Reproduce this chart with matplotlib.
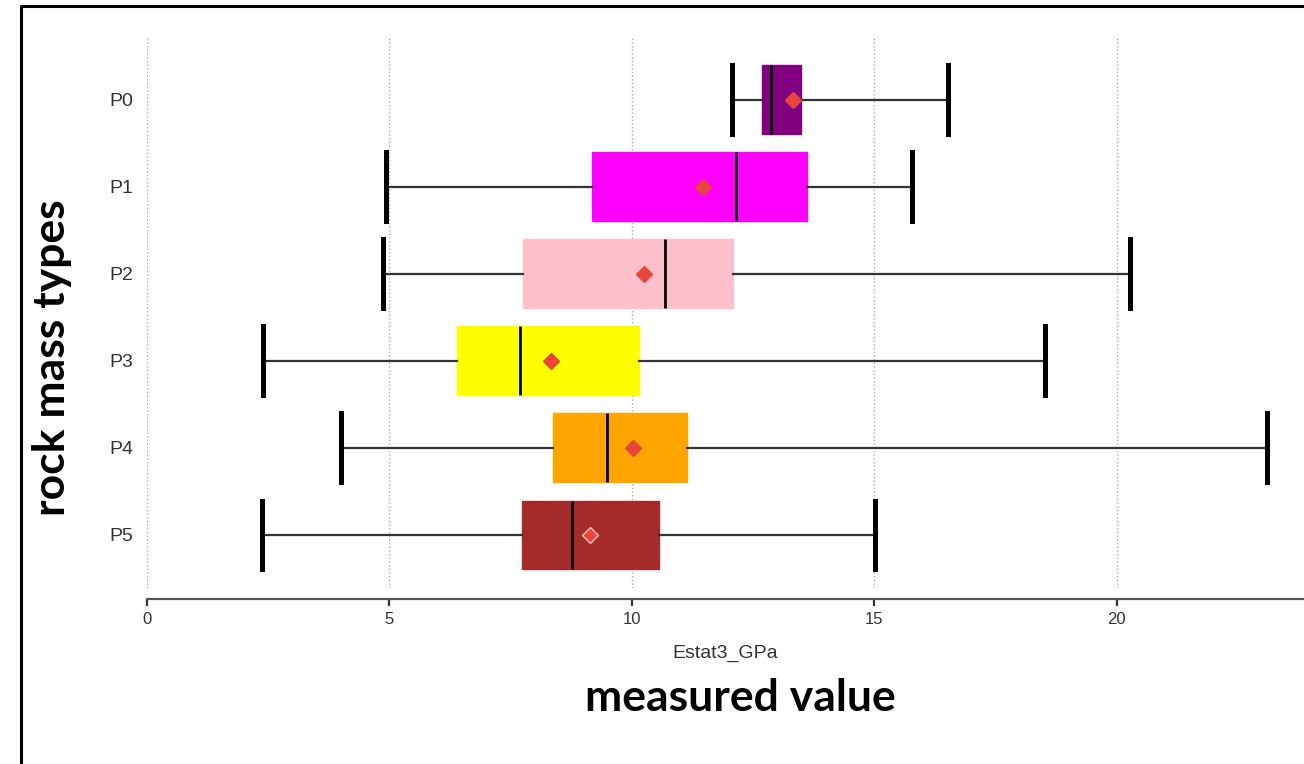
import matplotlib.pyplot as plt
from matplotlib.lines import Line2D

# box statistics for each rock mass type (Estat3, GPa)
types = ["P0", "P1", "P2", "P3", "P4", "P5"]
whis_lo = [12.06, 4.93, 4.87, 2.39, 4.00, 2.37]
q1 = [12.68, 9.18, 7.75, 6.39, 8.37, 7.73]
median = [12.87, 12.14, 10.68, 7.69, 9.48, 8.76]
q3 = [13.48, 13.61, 12.08, 10.14, 11.13, 10.56]
whis_hi = [16.52, 15.77, 20.27, 18.52, 23.09, 15.01]
mean = [13.32, 11.46, 10.25, 8.33, 10.02, 9.13]
colors = ["#800080", "#ff00ff", "#ffc0cb", "#ffff00", "#ffa500", "#a52a2a"]

stats = []
for i, name in enumerate(types):
    stats.append({"label": name, "whislo": whis_lo[i], "q1": q1[i], "med": median[i],
                  "q3": q3[i], "whishi": whis_hi[i], "mean": mean[i], "fliers": []})

fig = plt.figure(figsize=(13.04, 7.64), dpi=100)
W, H = 1304, 764
ax = fig.add_axes([147 / W, 1 - 588 / H, 1 - 147 / W, (588 - 37) / H])

bp = ax.bxp(stats, positions=range(len(types)), widths=0.79, capwidths=0.79,
            orientation="horizontal", patch_artist=True, showmeans=True,
            showfliers=False,
            whiskerprops=dict(color="#333333", linewidth=1.6),
            capprops=dict(color="black", linewidth=3.6),
            medianprops=dict(color="black", linewidth=2.0),
            meanprops=dict(marker="D", markersize=8, markerfacecolor="#e8453c",
                           markeredgecolor="#e8453c"),
            zorder=3)
for box, c in zip(bp["boxes"], colors):
    box.set_facecolor(c)
    box.set_edgecolor(c)
bp["means"][-1].set_markeredgecolor("#f4c4c0")

ax.set_xlim(0, 23.86)
ax.set_ylim(5.61, -0.72)
ax.set_xticks([0, 5, 10, 15, 20])
ax.grid(axis="x", color="#aaaaaa", linestyle=":", linewidth=1.0)
ax.set_axisbelow(True)

for side in ["top", "right", "left"]:
    ax.spines[side].set_visible(False)
ax.spines["bottom"].set_position(("outward", 8))
ax.spines["bottom"].set_color("#555555")
ax.spines["bottom"].set_linewidth(1.6)
ax.tick_params(axis="x", direction="out", length=5, width=1.6, color="#333333",
               labelsize=12, labelcolor="#333333", pad=4)
ax.tick_params(axis="y", length=0, labelsize=14, labelcolor="#333333", pad=10)
for lab in ax.get_xticklabels() + ax.get_yticklabels():
    lab.set_family(["Liberation Sans", "DejaVu Sans"])

ax.set_xlabel("Estat3_GPa", fontsize=14, color="#333333", labelpad=13,
              family=["Liberation Sans", "DejaVu Sans"])

fig.text(740 / W, 1 - 698 / H, "measured value", ha="center", va="center",
         fontsize=32, fontweight="bold", family=["Lato", "DejaVu Sans"])
fig.text(52 / W, 1 - 358 / H, "rock mass types", ha="center", va="center",
         rotation=90, fontsize=32, fontweight="bold", family=["Lato", "DejaVu Sans"])

# frame around the figure
fig.add_artist(Line2D([21.5 / W, 21.5 / W, 1.0], [0.0, 1 - 5.5 / H, 1 - 5.5 / H],
                      transform=fig.transFigure, color="black", linewidth=2.2))

fig.savefig("out.png", dpi=100)
